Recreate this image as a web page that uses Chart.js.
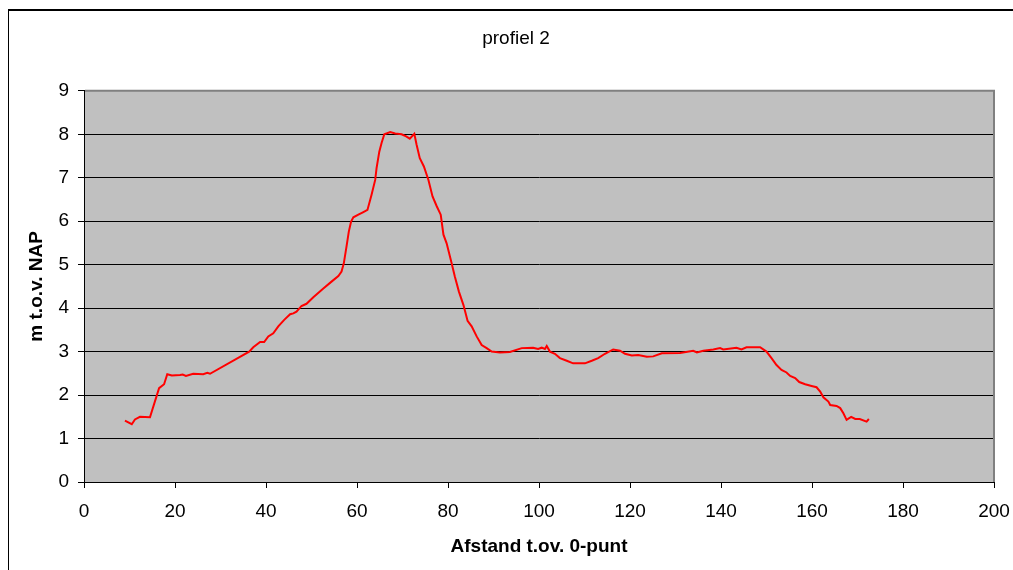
<!DOCTYPE html>
<html>
<head>
<meta charset="utf-8">
<script src="https://cdn.jsdelivr.net/npm/chart.js@4"></script>
<style>
  body { margin: 0; background: #fff; }
  #wrap { width: 1013px; height: 570px; }
</style>
</head>
<body>
<div id="wrap"><canvas id="profielChart" width="1013" height="570"></canvas></div>
<script>
// Afstand t.o.v. 0-punt (m)
const distance = [9.0, 10.5, 11.2, 12.3, 14.5, 16.5, 17.6, 18.3, 19.3, 21.1, 21.7, 22.4, 24.0, 26.2, 27.1, 27.7,
  36.3, 37.2, 38.7, 39.6, 40.5, 41.6, 42.7, 44.0, 45.3, 46.0,
  46.7, 47.8, 48.9, 50.4, 52.6, 54.4, 55.9, 56.6, 57.1, 57.7, 58.2, 58.7, 59.2, 60.3, 61.4, 62.3, 63.2, 64.0, 64.3, 64.9, 65.4, 66.0,
  67.3, 68.4, 69.8, 70.8, 71.6, 72.6, 73.1, 73.8, 74.7, 75.7, 76.6, 77.5, 78.4, 79.0, 79.7, 80.8, 81.5, 82.4, 83.4, 84.3, 85.2, 86.3, 87.4, 88.5, 89.6, 91.4,
  93.6, 96.2, 98.7, 99.8, 100.6, 101.3, 101.7, 102.4, 103.5, 104.6, 106.1, 107.5, 110.1, 111.6, 113.0, 114.5, 116.3, 117.8, 118.9, 120.4, 121.8, 123.7, 125.1, 127.0, 131.0, 133.9, 134.7, 136.1, 138.3, 139.8, 140.5, 143.4, 144.5, 145.6, 148.6,
  150.0, 151.1, 152.2, 153.3, 154.4, 155.2, 156.3, 157.2, 158.5, 159.9, 161.0, 161.8, 162.5, 163.6, 164.0, 165.4, 166.2, 166.9, 167.6, 168.6, 169.5, 170.5, 172.0, 172.5];

// hoogte in m t.o.v. NAP
const height = [1.41, 1.33, 1.44, 1.50, 1.49, 2.16, 2.25, 2.48, 2.45, 2.46, 2.47, 2.44, 2.49, 2.48, 2.51, 2.49,
  3.00, 3.10, 3.22, 3.22, 3.35, 3.42, 3.58, 3.73, 3.86, 3.88,
  3.92, 4.05, 4.10, 4.25, 4.45, 4.61, 4.74, 4.84, 5.03, 5.42, 5.76, 5.99, 6.09, 6.15, 6.21, 6.26, 6.61, 6.95, 7.22, 7.60, 7.80, 8.00,
  8.05, 8.02, 8.00, 7.95, 7.90, 8.01, 7.76, 7.45, 7.26, 6.95, 6.57, 6.35, 6.15, 5.69, 5.49, 5.03, 4.73, 4.38, 4.07, 3.71, 3.58, 3.35, 3.15, 3.08, 3.00, 2.98,
  2.99, 3.08, 3.09, 3.06, 3.09, 3.06, 3.13, 3.00, 2.95, 2.85, 2.79, 2.73, 2.73, 2.79, 2.85, 2.95, 3.05, 3.02, 2.95, 2.91, 2.92, 2.88, 2.89, 2.96, 2.97, 3.02, 2.98, 3.02, 3.05, 3.08, 3.05, 3.09, 3.05, 3.10, 3.10,
  3.00, 2.85, 2.69, 2.58, 2.52, 2.44, 2.39, 2.30, 2.25, 2.21, 2.18, 2.08, 1.95, 1.85, 1.77, 1.75, 1.70, 1.58, 1.43, 1.50, 1.45, 1.45, 1.39, 1.45];

const xTicks = [0, 20, 40, 60, 80, 100, 120, 140, 160, 180, 200];
const yTicks = [0, 1, 2, 3, 4, 5, 6, 7, 8, 9];

const points = distance.map((d, i) => ({ x: d, y: height[i] }));

// grey plot area + chart border
const excelLook = {
  id: "excelLook",
  beforeDraw(chart) {
    const { ctx, chartArea: a } = chart;
    ctx.save();
    ctx.fillStyle = "#c0c0c0";
    ctx.fillRect(a.left, a.top, a.right - a.left, a.bottom - a.top);
    ctx.fillStyle = "#000";
    ctx.fillRect(8, 9, chart.width - 8, 2);
    ctx.fillRect(8, 9, 1, chart.height - 9);
    ctx.restore();
  },
  afterDraw(chart) {
    const { ctx, chartArea: a } = chart;
    ctx.save();
    ctx.strokeStyle = "#808080";
    ctx.lineWidth = 2;
    ctx.beginPath();
    ctx.moveTo(a.left + 1, a.top);
    ctx.lineTo(a.right, a.top);
    ctx.lineTo(a.right, a.bottom);
    ctx.stroke();
    ctx.restore();
  },
};

const font = { family: "'Liberation Sans', Arial, sans-serif", size: 19 };

new Chart(document.getElementById("profielChart"), {
  type: "scatter",
  data: {
    datasets: [
      {
        label: "profiel 2",
        data: points,
        showLine: true,
        borderColor: "#ff0000",
        borderWidth: 2,
        pointRadius: 0,
        tension: 0,
      },
    ],
  },
  options: {
    responsive: false,
    animation: false,
    layout: {
      padding: { left: 38, right: 19, top: 0, bottom: 0 },
    },
    plugins: {
      legend: { display: false },
      tooltip: { enabled: false },
      title: {
        display: true,
        text: "profiel 2",
        color: "#000",
        font: { ...font, weight: "normal" },
        padding: { top: 27, bottom: 41 },
      },
    },
    scales: {
      x: {
        type: "linear",
        min: 0,
        max: 200,
        afterBuildTicks: (s) => { s.ticks = xTicks.map((v) => ({ value: v })); },
        afterFit: (s) => {
          s.height = 88;
          s.paddingLeft = 0;
          s.paddingRight = 0;
        },
        ticks: { color: "#000", font: font, padding: 12, maxRotation: 0 },
        grid: { drawOnChartArea: false, drawTicks: true, tickLength: 6, color: "#000" },
        border: { color: "#000", width: 1 },
        title: {
          display: true,
          text: "Afstand t.ov. 0-punt",
          color: "#000",
          font: { ...font, weight: "bold" },
          padding: { top: 0, bottom: 12 },
        },
      },
      y: {
        min: 0,
        max: 9,
        afterBuildTicks: (s) => { s.ticks = yTicks.map((v) => ({ value: v })); },
        afterFit: (s) => {
          s.width = 46;
          s.paddingTop = 0;
          s.paddingBottom = 0;
        },
        ticks: { color: "#000", font: font, padding: 9 },
        grid: { color: "#000", lineWidth: 1, tickLength: 6 },
        border: { color: "#000", width: 1 },
        title: {
          display: true,
          text: "m t.o.v. NAP",
          color: "#000",
          font: { ...font, weight: "bold" },
          padding: { top: -13, bottom: 0 },
        },
      },
    },
  },
  plugins: [excelLook],
});
</script>
</body>
</html>
